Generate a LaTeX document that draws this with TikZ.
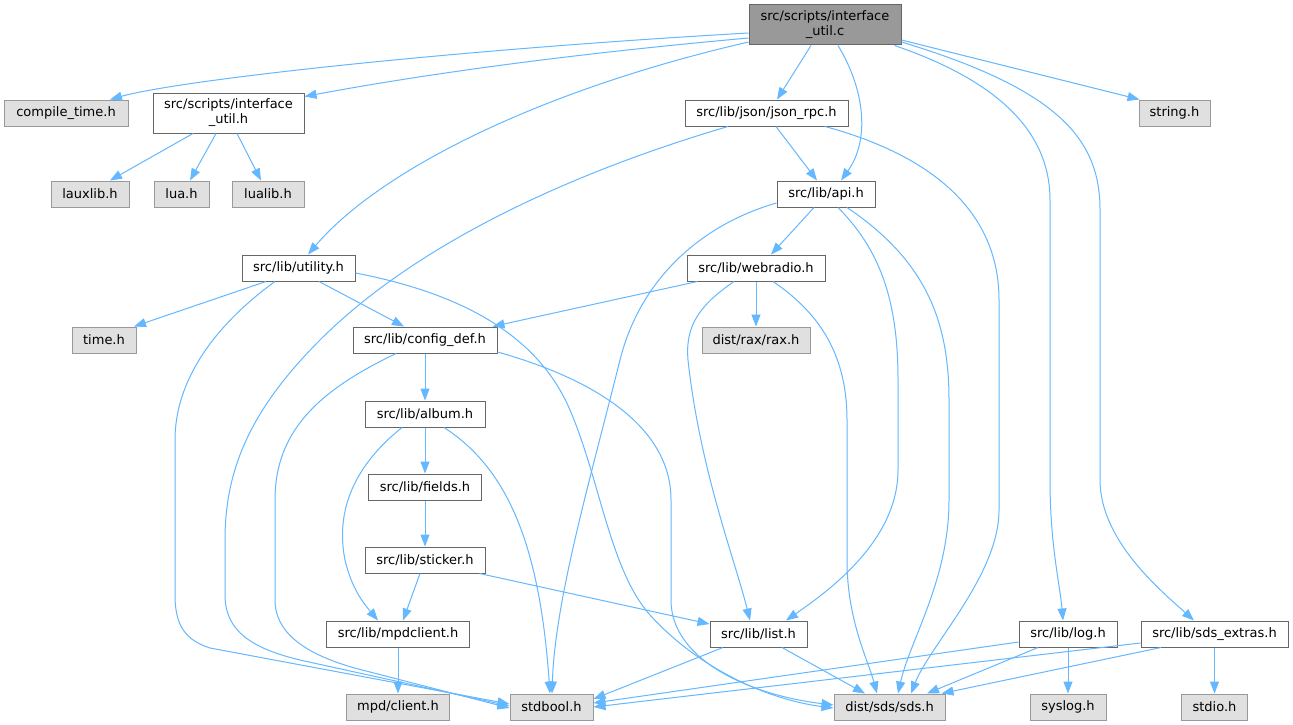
\documentclass[tikz,border=0pt]{standalone}
\usepackage{fontspec}
\setmainfont{DejaVu Sans}
\usetikzlibrary{arrows.meta,calc}
\definecolor{edgec}{HTML}{63B8FF}
\definecolor{bordc}{HTML}{666666}
\definecolor{sysfill}{HTML}{E0E0E0}
\definecolor{sysbord}{HTML}{999999}
\definecolor{rootfill}{HTML}{999999}
\begin{document}
\begin{tikzpicture}[x=1pt,y=-1pt,
  box/.style={draw=bordc, fill=white, line width=1pt, inner sep=0pt, minimum height=26pt,
    font=\fontsize{13}{15}\selectfont, align=center},
  sysbox/.style={box, draw=sysbord, fill=sysfill},
  rootbox/.style={box, fill=rootfill, minimum height=40pt},
  twoline/.style={minimum height=40pt},
  dep/.style={draw=edgec, line width=1pt, -{Triangle[length=12pt,width=9pt]}}]
\fill[white] (0,0) rectangle (1293,725);
\useasboundingbox (0,0) rectangle (1293,725);

% nodes
\node[rootbox, minimum width=152pt] (root) at (825,25) {src/scripts/interface\\\_util.c};
\node[sysbox, minimum width=124pt] (compile) at (66,113) {compile\_time.h};
\node[box, twoline, minimum width=151pt] (iutil) at (228.5,113) {src/scripts/interface\\\_util.h};
\node[sysbox, minimum width=78pt] (lauxlib) at (90,194) {lauxlib.h};
\node[sysbox, minimum width=55pt] (lua) at (181.5,194) {lua.h};
\node[sysbox, minimum width=72pt] (lualib) at (268,194) {lualib.h};
\node[box, minimum width=113pt] (utility) at (298.5,268) {src/lib/utility.h};
\node[sysbox, minimum width=64pt] (time) at (104,340) {time.h};
\node[box, minimum width=144pt] (configdef) at (425,340) {src/lib/config\_def.h};
\node[box, minimum width=120pt] (album) at (425,414) {src/lib/album.h};
\node[box, minimum width=113pt] (fields) at (425,487) {src/lib/fields.h};
\node[box, minimum width=120pt] (sticker) at (425,560) {src/lib/sticker.h};
\node[box, minimum width=143pt] (mpdclient) at (398,634) {src/lib/mpdclient.h};
\node[sysbox, minimum width=103pt] (mpdc) at (398,707) {mpd/client.h};
\node[sysbox, minimum width=83pt] (stdbool) at (551.5,707) {stdbool.h};
\node[box, minimum width=163pt] (jsonrpc) at (766.5,113) {src/lib/json/json\_rpc.h};
\node[sysbox, minimum width=71pt] (string) at (1174.5,113) {string.h};
\node[box, minimum width=98pt] (api) at (826,194) {src/lib/api.h};
\node[box, minimum width=138pt] (webradio) at (756,268) {src/lib/webradio.h};
\node[sysbox, minimum width=108pt] (rax) at (756,340) {dist/rax/rax.h};
\node[box, minimum width=97pt] (list) at (758.5,634) {src/lib/list.h};
\node[sysbox, minimum width=111pt] (sds) at (889.5,707) {dist/sds/sds.h};
\node[box, minimum width=98pt] (log) at (1068,634) {src/lib/log.h};
\node[box, minimum width=147pt] (sdsx) at (1214.5,634) {src/lib/sds\_extras.h};
\node[sysbox, minimum width=76pt] (syslog) at (1068,707) {syslog.h};
\node[sysbox, minimum width=66pt] (stdio) at (1214.5,707) {stdio.h};

% root
\draw[dep] ($(root.west)+(0,8)$) .. controls (450,50) and (180,80) .. ($(compile.north)+(44,0)$);
\draw[dep] ($(root.west)+(0,13)$) .. controls (560,55) and (420,75) .. ($(iutil.north east)+(0,4)$);
\draw[dep] ($(root.west)+(0,17)$) .. controls (540,90) and (380,170) .. ($(utility.north)+(9.5,0)$);
\draw[dep] ($(root.south)+(-14,0)$) -- ($(jsonrpc.north)+(10.5,0)$);
\draw[dep] ($(root.south)+(13,0)$) .. controls (865,90) and (870,140) .. ($(api.north)+(15,0)$);
\draw[dep] ($(root.east)+(0,15)$) -- ($(string.north west)+(1,0)$);
\draw[dep] ($(root.south east)+(-7,0)$) .. controls (1010,85) and (1050,140) .. (1050,200) -- (1050,480) .. controls (1050,545) and (1060,585) .. ($(log.north)+(-5,0)$);
\draw[dep] ($(root.east)+(0,17)$) .. controls (1060,90) and (1100,140) .. (1100,210) -- (1100,480) .. controls (1100,540) and (1160,590) .. ($(sdsx.north)+(-20.5,0)$);

% interface_util.h
\draw[dep] ($(iutil.south)+(-35.5,0)$) -- ($(lauxlib.north)+(20,0)$);
\draw[dep] ($(iutil.south)+(-12.5,0)$) -- ($(lua.north)+(8.5,0)$);
\draw[dep] ($(iutil.south)+(8.5,0)$) -- ($(lualib.north)+(-7,0)$);

% utility.h
\draw[dep] ($(utility.south)+(-32.5,0)$) -- ($(time.north)+(30,0)$);
\draw[dep] ($(utility.south)+(20.5,0)$) -- ($(configdef.north)+(-21,0)$);
\draw[dep] ($(utility.south)+(-23.5,0)$) .. controls (215,325) and (175,380) .. (175,440) -- (175,595) .. controls (175,625) and (185,640) .. (210,648) -- ($(stdbool.west)+(0,-3)$);
\draw[dep] ($(utility.east)+(0,5)$) .. controls (470,295) and (540,340) .. (570,410) .. controls (600,480) and (610,570) .. (650,615) .. controls (700,670) and (770,700) .. ($(sds.west)+(0,1)$);

% json_rpc.h
\draw[dep] ($(jsonrpc.south)+(9.5,0)$) -- ($(api.north)+(-9,0)$);
\draw[dep] ($(jsonrpc.south)+(-38.5,0)$) .. controls (580,170) and (420,240) .. (320,340) .. controls (250,410) and (225,470) .. (225,540) -- (225,595) .. controls (225,630) and (250,648) .. (300,660) -- ($(stdbool.west)+(0,-1)$);
\draw[dep] ($(jsonrpc.south)+(58.5,0)$) .. controls (930,155) and (999,210) .. (999,300) -- (999,510) .. controls (999,575) and (930,645) .. ($(sds.north)+(21.5,0)$);

% api.h
\draw[dep] ($(api.south)+(-12,0)$) -- ($(webradio.north)+(15,0)$);
\draw[dep] ($(api.west)+(0,9)$) .. controls (700,225) and (640,280) .. (620,360) .. controls (590,480) and (555,600) .. ($(stdbool.north)+(0.5,0)$);
\draw[dep] ($(api.south)+(12,0)$) .. controls (880,250) and (898,300) .. (898,380) -- (898,470) .. controls (898,540) and (830,590) .. ($(list.north)+(27.5,0)$);
\draw[dep] ($(api.south)+(21,0)$) .. controls (925,260) and (949,320) .. (949,400) -- (949,500) .. controls (949,580) and (910,640) .. ($(sds.north)+(8.5,0)$);

% webradio.h
\draw[dep] ($(webradio.south west)+(11,0)$) -- ($(configdef.north east)+(-5,0)$);
\draw[dep] (webradio.south) -- (rax.north);
\draw[dep] ($(webradio.south)+(-22,0)$) .. controls (700,305) and (685,325) .. (688,360) .. controls (700,470) and (735,560) .. ($(list.north)+(-8.5,0)$);
\draw[dep] ($(webradio.south)+(17,0)$) .. controls (815,310) and (847,350) .. (847,420) -- (847,560) .. controls (847,620) and (868,660) .. ($(sds.north)+(-12.5,0)$);

% config_def.h
\draw[dep] (configdef.south) -- (album.north);
\draw[dep] ($(configdef.south)+(-29,0)$) .. controls (320,390) and (275,430) .. (275,500) -- (275,600) .. controls (275,640) and (320,660) .. (370,672) -- ($(stdbool.west)+(0,1)$);
\draw[dep] ($(configdef.east)+(0,12)$) .. controls (580,375) and (671,420) .. (671,500) -- (671,600) .. controls (671,660) and (750,695) .. ($(sds.west)+(0,-2)$);

% album.h
\draw[dep] (album.south) -- (fields.north);
\draw[dep] ($(album.south)+(-23,0)$) .. controls (355,465) and (335,510) .. (345,560) .. controls (352,590) and (365,605) .. ($(mpdclient.north)+(-20,0)$);
\draw[dep] ($(album.south)+(19,0)$) .. controls (510,470) and (540,550) .. ($(stdbool.north)+(-1.5,0)$);

% fields.h, sticker.h, mpdclient.h
\draw[dep] (fields.south) -- (sticker.north);
\draw[dep] ($(sticker.south)+(-5,0)$) -- ($(mpdclient.north)+(5,0)$);
\draw[dep] ($(sticker.south east)+(-6,0)$) -- ($(list.west)+(0,-10)$);
\draw[dep] (mpdclient.south) -- (mpdc.north);

% list.h
\draw[dep] ($(list.south)+(-35.5,0)$) -- ($(stdbool.east)+(0,-8)$);
\draw[dep] ($(list.south)+(23.5,0)$) -- ($(sds.north)+(-24.5,0)$);

% log.h
\draw[dep] ($(log.west)+(0,8)$) -- ($(stdbool.east)+(0,-4)$);
\draw[dep] ($(log.south)+(-30,0)$) -- ($(sds.north)+(37.5,0)$);
\draw[dep] (log.south) -- (syslog.north);

% sds_extras.h
\draw[dep] ($(sdsx.west)+(0,9)$) -- (stdbool.east);
\draw[dep] ($(sdsx.south)+(-53.5,0)$) -- ($(sds.north east)+(-4,0)$);
\draw[dep] (sdsx.south) -- (stdio.north);
\end{tikzpicture}
\end{document}
